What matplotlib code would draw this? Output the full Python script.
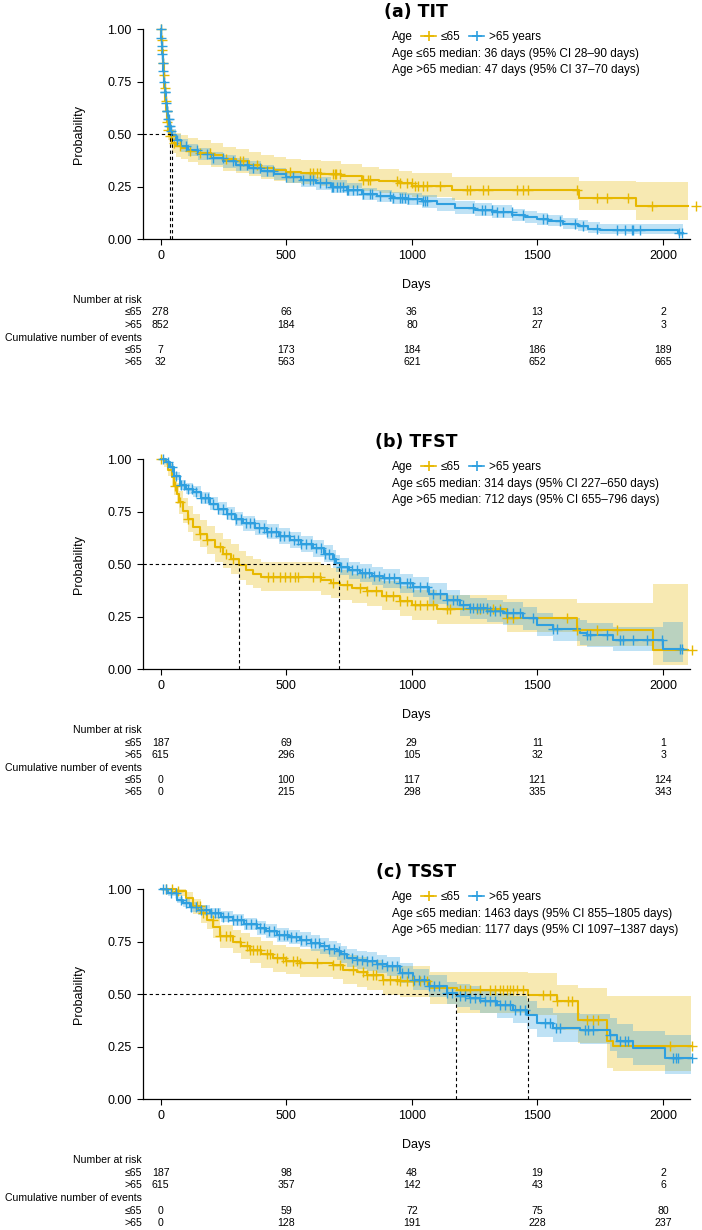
import numpy as np
import matplotlib
matplotlib.use("Agg")
import matplotlib.pyplot as plt
from matplotlib.lines import Line2D

plt.rcParams['font.family'] = ['Liberation Sans', 'DejaVu Sans']

YOUNG_COL = "#E7B800"
OLD_COL = "#2E9FDF"

# ---- (a) TIT ----
A_Y_T = [0, 3, 6, 9, 12, 15, 18, 21, 25, 30, 36, 45, 60, 80, 110, 150, 200, 250, 300, 350, 400, 450, 500,
         560, 640, 720, 800, 870, 950, 1000, 1160, 1666, 1892, 2100]
A_Y_S = [1.0, 0.95, 0.90, 0.84, 0.78, 0.72, 0.66, 0.61, 0.56, 0.52, 0.49, 0.46, 0.445, 0.435, 0.42, 0.41, 0.40,
         0.38, 0.37, 0.355, 0.34, 0.33, 0.32, 0.315, 0.31, 0.30, 0.283, 0.275, 0.265, 0.255, 0.235, 0.195, 0.155, 0.155]
A_Y_LO = [1.0, 0.92, 0.87, 0.80, 0.73, 0.67, 0.61, 0.56, 0.51, 0.47, 0.44, 0.41, 0.39, 0.38, 0.365, 0.355, 0.345,
          0.325, 0.315, 0.30, 0.285, 0.275, 0.265, 0.26, 0.255, 0.245, 0.23, 0.22, 0.21, 0.20, 0.186, 0.138, 0.09, 0.09]
A_Y_UP = [1.0, 0.98, 0.94, 0.88, 0.83, 0.77, 0.72, 0.67, 0.62, 0.58, 0.55, 0.52, 0.505, 0.495, 0.48, 0.47, 0.46,
          0.44, 0.43, 0.415, 0.40, 0.39, 0.38, 0.375, 0.37, 0.36, 0.345, 0.335, 0.325, 0.315, 0.297, 0.276, 0.273, 0.273]
A_Y_CENS = [2, 4, 7, 10, 14, 17, 20, 24, 27, 30, 37, 55, 77, 117, 156, 196, 262, 316, 329, 382, 515, 594, 607,
            621, 634, 687, 694, 700, 714, 807, 827, 833, 939, 953, 979, 999, 1012, 1026, 1046, 1059, 1112, 1218,
            1231, 1284, 1304, 1417, 1443, 1463, 1656, 1736, 1775, 1862, 1955, 2130]

A_O_T = [0, 2, 4, 6, 8, 10, 13, 16, 20, 24, 28, 33, 40, 47, 60, 80, 110, 150, 200, 250, 300, 350, 400, 450, 500,
         560, 620, 680, 740, 800, 860, 920, 980, 1040, 1100, 1170, 1250, 1320, 1400, 1450, 1500, 1540, 1600, 1660,
         1700, 1750, 2060, 2080]
A_O_S = [1.0, 0.96, 0.92, 0.88, 0.84, 0.80, 0.75, 0.70, 0.65, 0.61, 0.57, 0.54, 0.515, 0.495, 0.47, 0.445, 0.425,
         0.405, 0.385, 0.37, 0.355, 0.34, 0.325, 0.31, 0.295, 0.28, 0.265, 0.25, 0.235, 0.215, 0.205, 0.195, 0.19,
         0.18, 0.165, 0.15, 0.14, 0.13, 0.115, 0.105, 0.095, 0.085, 0.07, 0.06, 0.05, 0.045, 0.03, 0.03]
A_O_LO = [1.0, 0.945, 0.90, 0.86, 0.815, 0.775, 0.72, 0.67, 0.62, 0.58, 0.54, 0.51, 0.485, 0.465, 0.44, 0.415,
          0.395, 0.375, 0.355, 0.34, 0.325, 0.31, 0.295, 0.28, 0.265, 0.25, 0.235, 0.22, 0.205, 0.185, 0.175, 0.165,
          0.16, 0.15, 0.135, 0.12, 0.11, 0.10, 0.088, 0.078, 0.068, 0.06, 0.047, 0.038, 0.03, 0.025, 0.012, 0.012]
A_O_UP = [1.0, 0.975, 0.94, 0.90, 0.865, 0.825, 0.78, 0.73, 0.68, 0.64, 0.60, 0.57, 0.545, 0.525, 0.50, 0.475,
          0.455, 0.435, 0.415, 0.40, 0.385, 0.37, 0.355, 0.34, 0.325, 0.31, 0.295, 0.28, 0.265, 0.245, 0.235, 0.225,
          0.22, 0.21, 0.195, 0.18, 0.17, 0.16, 0.145, 0.135, 0.125, 0.115, 0.10, 0.09, 0.08, 0.072, 0.07, 0.07]
A_O_CENS = [1, 3, 5, 7, 9, 11, 14, 17, 19, 22, 25, 27, 30, 32, 35, 38, 42, 64, 103, 143, 183, 209, 249, 289, 316,
            342, 369, 395, 422, 448, 501, 528, 568, 594, 607, 634, 660, 681, 687, 701, 714, 727, 740, 747, 767, 780,
            807, 833, 840, 873, 913, 926, 953, 959, 972, 986, 1019, 1046, 1052, 1059, 1245, 1278, 1291, 1317, 1337,
            1364, 1397, 1443, 1523, 1536, 1590, 1649, 1683, 1736, 1815, 1849, 1875, 1882, 1909, 2062, 2075]

# ---- (b) TFST ----
B_Y_T = [0, 15, 30, 44, 55, 64, 75, 90, 110, 130, 155, 183, 215, 249, 280, 314, 340, 369, 400, 640, 680, 714, 760,
         820, 880, 953, 1000, 1099, 1377, 1656, 1961, 2100]
B_Y_S = [1.0, 0.985, 0.95, 0.915, 0.875, 0.835, 0.795, 0.755, 0.715, 0.675, 0.645, 0.615, 0.58, 0.55, 0.525, 0.495,
         0.47, 0.455, 0.44, 0.425, 0.41, 0.40, 0.385, 0.37, 0.35, 0.325, 0.305, 0.285, 0.245, 0.186, 0.09, 0.09]
B_Y_LO = [1.0, 0.965, 0.92, 0.875, 0.83, 0.785, 0.74, 0.695, 0.655, 0.61, 0.58, 0.55, 0.51, 0.48, 0.455, 0.425, 0.40,
          0.385, 0.37, 0.355, 0.34, 0.33, 0.315, 0.30, 0.28, 0.255, 0.235, 0.215, 0.178, 0.11, 0.019, 0.019]
B_Y_UP = [1.0, 1.0, 0.98, 0.955, 0.92, 0.885, 0.85, 0.815, 0.775, 0.74, 0.71, 0.68, 0.65, 0.62, 0.595, 0.565, 0.54,
          0.525, 0.51, 0.495, 0.48, 0.47, 0.455, 0.44, 0.42, 0.395, 0.375, 0.355, 0.336, 0.313, 0.405, 0.405]
B_Y_CENS = [0, 57, 77, 110, 156, 183, 236, 262, 289, 428, 448, 475, 494, 514, 534, 547, 607, 634, 687, 740, 793,
            820, 859, 899, 926, 953, 979, 1012, 1032, 1059, 1085, 1138, 1152, 1258, 1271, 1298, 1324, 1351, 1377,
            1404, 1616, 1656, 1735, 1815, 2114]

B_O_T = [0, 20, 37, 55, 77, 100, 130, 160, 196, 230, 263, 295, 329, 375, 422, 470, 515, 560, 608, 650, 687, 700,
         714, 750, 793, 840, 886, 953, 1006, 1070, 1138, 1190, 1231, 1300, 1364, 1444, 1497, 1563, 1669, 1696, 1802,
         2001, 2081]
B_O_S = [1.0, 0.985, 0.963, 0.92, 0.876, 0.86, 0.845, 0.815, 0.789, 0.765, 0.741, 0.717, 0.694, 0.674, 0.654, 0.634,
         0.614, 0.595, 0.575, 0.55, 0.525, 0.505, 0.487, 0.47, 0.456, 0.444, 0.432, 0.408, 0.392, 0.36, 0.329, 0.305,
         0.289, 0.275, 0.265, 0.241, 0.21, 0.189, 0.173, 0.162, 0.138, 0.094, 0.094]
B_O_LO = [1.0, 0.975, 0.948, 0.90, 0.853, 0.835, 0.818, 0.787, 0.759, 0.734, 0.709, 0.684, 0.66, 0.639, 0.618, 0.597,
          0.576, 0.556, 0.535, 0.51, 0.484, 0.464, 0.446, 0.428, 0.413, 0.40, 0.387, 0.362, 0.345, 0.312, 0.28, 0.255,
          0.238, 0.222, 0.21, 0.185, 0.155, 0.133, 0.115, 0.104, 0.085, 0.035, 0.035]
B_O_UP = [1.0, 0.995, 0.978, 0.94, 0.899, 0.885, 0.872, 0.843, 0.819, 0.796, 0.773, 0.75, 0.728, 0.709, 0.69, 0.671,
          0.652, 0.634, 0.615, 0.59, 0.566, 0.546, 0.528, 0.512, 0.499, 0.488, 0.477, 0.454, 0.439, 0.408, 0.378,
          0.355, 0.34, 0.328, 0.32, 0.297, 0.265, 0.245, 0.232, 0.221, 0.20, 0.225, 0.225]
B_O_CENS = [10, 30, 45, 60, 80, 95, 110, 125, 140, 160, 175, 190, 210, 230, 250, 265, 280, 300, 320, 340, 355, 370,
            390, 410, 425, 440, 460, 475, 490, 510, 530, 545, 560, 580, 600, 620, 640, 655, 670, 690, 720, 740, 760,
            780, 800, 815, 830, 850, 870, 890, 910, 930, 953, 979, 992, 1006, 1032, 1059, 1085, 1112, 1138, 1165,
            1178, 1205, 1231, 1244, 1258, 1271, 1284, 1298, 1311, 1331, 1351, 1377, 1404, 1430, 1483, 1563, 1576,
            1696, 1709, 1776, 1828, 1842, 1881, 1934, 1994, 2067, 2074]

# ---- (c) TSST ----
C_Y_T = [0, 60, 100, 130, 160, 183, 210, 236, 289, 320, 355, 400, 448, 500, 555, 687, 727, 780, 820, 886, 953, 1072,
         1178, 1463, 1576, 1662, 1775, 1800, 2114]
C_Y_S = [1.0, 0.99, 0.96, 0.92, 0.885, 0.855, 0.82, 0.775, 0.751, 0.73, 0.712, 0.69, 0.672, 0.66, 0.649, 0.64, 0.617,
         0.605, 0.593, 0.569, 0.561, 0.53, 0.521, 0.498, 0.466, 0.379, 0.275, 0.251, 0.251]
C_Y_LO = [1.0, 0.97, 0.93, 0.88, 0.84, 0.81, 0.77, 0.72, 0.695, 0.67, 0.65, 0.627, 0.607, 0.594, 0.582, 0.572, 0.548,
          0.535, 0.522, 0.497, 0.487, 0.455, 0.41, 0.40, 0.331, 0.268, 0.15, 0.132, 0.132]
C_Y_UP = [1.0, 1.0, 0.985, 0.955, 0.925, 0.90, 0.87, 0.83, 0.808, 0.79, 0.773, 0.752, 0.736, 0.726, 0.716, 0.708,
          0.686, 0.675, 0.664, 0.641, 0.634, 0.608, 0.608, 0.60, 0.545, 0.53, 0.493, 0.493, 0.493]
C_Y_CENS = [20, 45, 70, 143, 156, 170, 209, 236, 262, 276, 316, 342, 355, 369, 382, 395, 422, 435, 462, 488, 501,
            528, 541, 555, 621, 687, 714, 767, 806, 820, 846, 859, 886, 912, 939, 953, 979, 1006, 1032, 1059, 1191,
            1211, 1231, 1271, 1311, 1331, 1351, 1364, 1377, 1390, 1404, 1417, 1443, 1523, 1550, 1576, 1623, 1636,
            1696, 1722, 1742, 2028, 2114]

C_O_T = [0, 30, 64, 90, 117, 150, 196, 240, 289, 330, 382, 420, 462, 510, 555, 600, 634, 670, 701, 720, 740, 780, 820,
         860, 900, 953, 1006, 1070, 1138, 1178, 1230, 1271, 1340, 1404, 1457, 1497, 1563, 1669, 1789, 1815, 1881,
         2008, 2114]
C_O_S = [1.0, 0.98, 0.95, 0.935, 0.916, 0.90, 0.887, 0.87, 0.855, 0.835, 0.815, 0.80, 0.783, 0.772, 0.76, 0.745, 0.728,
         0.716, 0.704, 0.69, 0.672, 0.664, 0.656, 0.644, 0.632, 0.60, 0.569, 0.538, 0.506, 0.493, 0.48, 0.466, 0.446,
         0.426, 0.402, 0.363, 0.339, 0.331, 0.307, 0.275, 0.244, 0.196, 0.196]
C_O_LO = [1.0, 0.97, 0.935, 0.915, 0.894, 0.877, 0.862, 0.843, 0.826, 0.805, 0.783, 0.767, 0.749, 0.737, 0.724, 0.708,
          0.69, 0.677, 0.664, 0.649, 0.63, 0.621, 0.612, 0.599, 0.586, 0.553, 0.52, 0.487, 0.453, 0.438, 0.423, 0.408,
          0.385, 0.362, 0.335, 0.295, 0.27, 0.26, 0.23, 0.195, 0.16, 0.117, 0.117]
C_O_UP = [1.0, 0.99, 0.965, 0.955, 0.938, 0.923, 0.912, 0.897, 0.884, 0.865, 0.847, 0.833, 0.817, 0.807, 0.796, 0.782,
          0.766, 0.755, 0.744, 0.731, 0.714, 0.707, 0.70, 0.689, 0.678, 0.647, 0.618, 0.589, 0.559, 0.548, 0.537,
          0.524, 0.507, 0.49, 0.469, 0.432, 0.41, 0.405, 0.385, 0.357, 0.323, 0.307, 0.307]
C_O_CENS = [10, 20, 40, 60, 80, 100, 120, 140, 160, 180, 200, 215, 230, 250, 270, 290, 305, 320, 340, 360, 380, 395,
            410, 430, 450, 470, 490, 505, 520, 540, 560, 580, 600, 615, 630, 650, 670, 690, 710, 730, 760, 780, 800,
            820, 840, 860, 880, 900, 920, 940, 960, 985, 1010, 1030, 1050, 1070, 1090, 1110, 1140, 1160, 1190, 1210,
            1230, 1250, 1270, 1290, 1310, 1330, 1350, 1370, 1390, 1410, 1430, 1450, 1530, 1550, 1575, 1590, 1690,
            1700, 1720, 1790, 1830, 1850, 1860, 2040, 2050, 2060, 2114]

TITLES = ["(a) TIT", "(b) TFST", "(c) TSST"]
MEDIANS_YOUNG = [36, 314, 1463]
MEDIANS_OLD = [47, 712, 1177]
MEDIAN_TEXT = [
    ("Age \u226465 median: 36 days (95% CI 28\u201390 days)", "Age >65 median: 47 days (95% CI 37\u201370 days)"),
    ("Age \u226465 median: 314 days (95% CI 227\u2013650 days)", "Age >65 median: 712 days (95% CI 655\u2013796 days)"),
    ("Age \u226465 median: 1463 days (95% CI 855\u20131805 days)",
     "Age >65 median: 1177 days (95% CI 1097\u20131387 days)"),
]

TABLE_TIMES = [0, 500, 1000, 1500, 2000]
RISK_YOUNG = [[278, 66, 36, 13, 2], [187, 69, 29, 11, 1], [187, 98, 48, 19, 2]]
RISK_OLD = [[852, 184, 80, 27, 3], [615, 296, 105, 32, 3], [615, 357, 142, 43, 6]]
EVENTS_YOUNG = [[7, 173, 184, 186, 189], [0, 100, 117, 121, 124], [0, 59, 72, 75, 80]]
EVENTS_OLD = [[32, 563, 621, 652, 665], [0, 215, 298, 335, 343], [0, 128, 191, 228, 237]]

CURVES = [
    ((A_Y_T, A_Y_S, A_Y_LO, A_Y_UP, A_Y_CENS), (A_O_T, A_O_S, A_O_LO, A_O_UP, A_O_CENS)),
    ((B_Y_T, B_Y_S, B_Y_LO, B_Y_UP, B_Y_CENS), (B_O_T, B_O_S, B_O_LO, B_O_UP, B_O_CENS)),
    ((C_Y_T, C_Y_S, C_Y_LO, C_Y_UP, C_Y_CENS), (C_O_T, C_O_S, C_O_LO, C_O_UP, C_O_CENS)),
]

W, H = 702, 1230
fig = plt.figure(figsize=(W / 100, H / 100), dpi=100)

AX_L, AX_R = 143, 690
PANEL_STEP = 430
TOP_OFF, BOT_OFF = 29.3, 239.0
AX_H = BOT_OFF - TOP_OFF


def ax_y(off):
    # pixel offset inside a panel -> axes fraction
    return (BOT_OFF - off) / AX_H


def ax_x(px):
    return (px - AX_L) / (AX_R - AX_L)


def draw_km(ax, t, s, lo, up, cens, col):
    t = np.asarray(t, float)
    s = np.asarray(s, float)
    ax.fill_between(t, lo, up, step='post', color=col, alpha=0.3, lw=0)
    ax.step(t, s, where='post', color=col, lw=1.5, clip_on=False, zorder=3)
    c = np.asarray(cens, float)
    idx = np.clip(np.searchsorted(t, c, side='right') - 1, 0, len(s) - 1)
    ax.plot(c, s[idx], ls='none', marker='+', ms=6.5, mew=1.0, color=col, clip_on=False, zorder=4)


for i in range(3):
    o = i * PANEL_STEP
    bottom = 1 - (o + BOT_OFF) / H
    ax = fig.add_axes([AX_L / W, bottom, (AX_R - AX_L) / W, AX_H / H])

    young, old = CURVES[i]
    draw_km(ax, *young, YOUNG_COL)
    draw_km(ax, *old, OLD_COL)

    # median lines
    m1, m2 = MEDIANS_YOUNG[i], MEDIANS_OLD[i]
    ax.plot([-70, max(m1, m2)], [0.5, 0.5], color='black', lw=0.8, ls=(0, (3, 2.5)), zorder=5)
    for m in (m1, m2):
        ax.plot([m, m], [0, 0.5], color='black', lw=0.8, ls=(0, (3, 2.5)), zorder=5)

    ax.set_xlim(-70, 2107)
    ax.set_ylim(0, 1)
    ax.set_xticks([0, 500, 1000, 1500, 2000])
    ax.set_yticks([0, 0.25, 0.5, 0.75, 1.0])
    ax.set_yticklabels(["0.00", "0.25", "0.50", "0.75", "1.00"])
    for sp in ("top", "right"):
        ax.spines[sp].set_visible(False)
    for sp in ("left", "bottom"):
        ax.spines[sp].set_linewidth(0.9)
    ax.tick_params(length=4, width=0.8, labelsize=9, pad=4)
    ax.set_xlabel("Days", fontsize=9)
    ax.set_ylabel("Probability", fontsize=9)
    ax.xaxis.set_label_coords(0.5, ax_y(279))
    ax.yaxis.set_label_coords(ax_x(85), 0.5)

    ax.text(ax_x(416), ax_y(12), TITLES[i], transform=ax.transAxes, ha='center', va='center',
            fontsize=12.5, fontweight='bold', family='DejaVu Sans')

    # legend row
    ax.text(ax_x(392), ax_y(37), "Age", transform=ax.transAxes, ha='left', va='center', fontsize=8.5)
    handles = [Line2D([], [], color=YOUNG_COL, lw=1.2, marker='+', ms=7, mew=1.2),
               Line2D([], [], color=OLD_COL, lw=1.2, marker='+', ms=7, mew=1.2)]
    ax.legend(handles, ["\u226465", ">65 years"], ncol=2, loc='center left', frameon=False,
              bbox_to_anchor=(ax_x(421), ax_y(37)), borderpad=0, borderaxespad=0, handlelength=1.3,
              handletextpad=0.4, columnspacing=0.7, fontsize=8.5)
    ax.text(ax_x(392), ax_y(54), MEDIAN_TEXT[i][0], transform=ax.transAxes, ha='left', va='center', fontsize=8.5)
    ax.text(ax_x(392), ax_y(69.5), MEDIAN_TEXT[i][1], transform=ax.transAxes, ha='left', va='center', fontsize=8.5)

    # risk table
    rows = [("Number at risk", None), ("\u226465", RISK_YOUNG[i]), (">65", RISK_OLD[i]),
            ("Cumulative number of events", None), ("\u226465", EVENTS_YOUNG[i]), (">65", EVENTS_OLD[i])]
    row_off = [300, 312.5, 325, 338, 350.5, 362.5]
    xt = ax.get_xaxis_transform()
    for (label, vals), off in zip(rows, row_off):
        yy = ax_y(off)
        ax.text(ax_x(142), yy, label, transform=ax.transAxes, ha='right', va='center', fontsize=7.6)
        if vals is not None:
            for tt, v in zip(TABLE_TIMES, vals):
                ax.text(tt, yy, str(v), transform=xt, ha='center', va='center', fontsize=7.6)

fig.savefig("out.png", dpi=100)
